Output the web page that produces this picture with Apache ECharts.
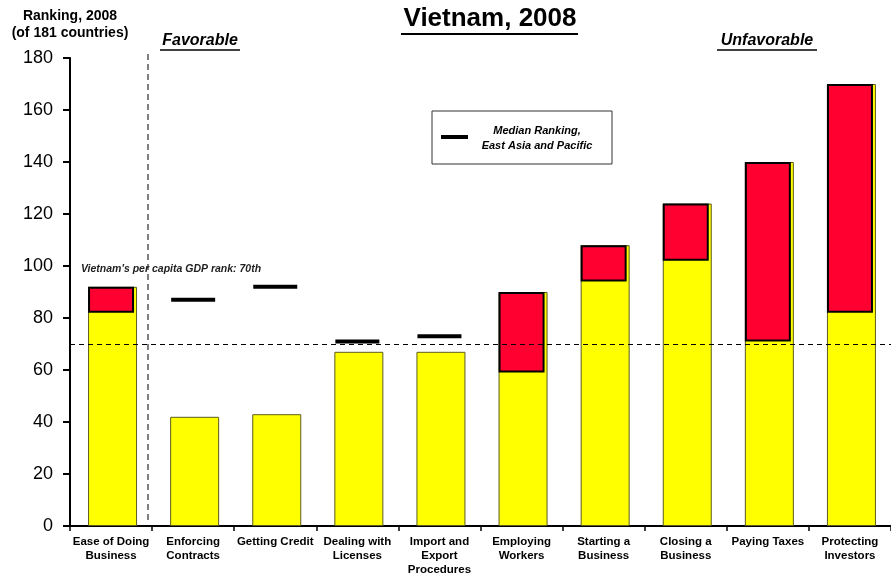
<!DOCTYPE html>
<html>
<head>
<meta charset="utf-8">
<script src="https://cdn.jsdelivr.net/npm/echarts@6/dist/echarts.min.js"></script>
<style>
  html, body { margin: 0; padding: 0; background: #fff; }
  #chart { width: 891px; height: 580px; }
</style>
</head>
<body>
<div id="chart"></div>
<script>
// Doing Business indicators for Vietnam, 2008
const categories = [
  'Ease of Doing\nBusiness',
  'Enforcing\nContracts',
  'Getting Credit',
  'Dealing with\nLicenses',
  'Import and\nExport\nProcedures',
  'Employing\nWorkers',
  'Starting a\nBusiness',
  'Closing a\nBusiness',
  'Paying Taxes',
  'Protecting\nInvestors'
];
// Vietnam's rank (of 181 countries)
const vietnamRank = [92, 42, 43, 67, 67, 90, 108, 124, 140, 170];
// Median rank, East Asia and Pacific
const regionMedian = [82, 87, 92, 71, 73, 59, 94, 102, 71, 82];
const gdpRank = 70;
const yTicks = [0, 20, 40, 60, 80, 100, 120, 140, 160, 180];

const FONT = '"Liberation Sans", Arial, sans-serif';

// Red segment: from the regional median up to Vietnam's rank where Vietnam ranks worse
const gapBase = vietnamRank.map((v, i) => v > regionMedian[i] ? regionMedian[i] : '-');
const gapSize = vietnamRank.map((v, i) => v > regionMedian[i] ? v - regionMedian[i] : '-');
// Median dashes shown where Vietnam ranks better than the regional median
const medianMarks = regionMedian.map((m, i) => vietnamRank[i] < m ? [i, m] : null).filter(Boolean);

const chart = echarts.init(document.getElementById('chart'));
chart.setOption({
  animation: false,
  grid: { left: 70, right: 0, top: 58, bottom: 54, containLabel: false },
  xAxis: {
    type: 'category',
    data: categories,
    axisLine: { lineStyle: { color: '#000', width: 2 } },
    axisTick: { show: true, alignWithLabel: false, length: 5, lineStyle: { color: '#000', width: 1.5 } },
    axisLabel: {
      interval: 0, color: '#000', fontFamily: FONT, fontWeight: 'bold',
      fontSize: 11.5, lineHeight: 14, margin: 9
    }
  },
  yAxis: {
    type: 'value',
    min: yTicks[0], max: yTicks[yTicks.length - 1], interval: 20,
    axisLine: { show: true, lineStyle: { color: '#000', width: 2 } },
    axisTick: { show: true, length: 7, lineStyle: { color: '#000', width: 2 } },
    axisLabel: { color: '#000', fontFamily: FONT, fontSize: 18, margin: 17 },
    splitLine: { show: false }
  },
  series: [
    {
      name: 'Vietnam',
      type: 'bar',
      data: vietnamRank,
      barWidth: 49,
      barGap: '-100%',
      itemStyle: { color: '#FFFF00', borderColor: '#5c5c1f', borderWidth: 1 },
      markLine: {
        silent: true, symbol: 'none', label: { show: false },
        lineStyle: { color: '#000', type: [5, 4], width: 1 },
        data: [{ yAxis: gdpRank }]
      },
      z: 2
    },
    {
      name: 'base',
      type: 'bar',
      stack: 'gap',
      data: gapBase,
      barWidth: 46,
      itemStyle: { color: 'transparent' },
      z: 3
    },
    {
      name: 'gap',
      type: 'bar',
      stack: 'gap',
      data: gapSize,
      barWidth: 46,
      itemStyle: { color: '#FF0030', borderColor: '#000', borderWidth: 2 },
      z: 4
    },
    {
      name: 'Median Ranking, East Asia and Pacific',
      type: 'scatter',
      data: medianMarks,
      symbol: 'rect',
      symbolSize: [44, 4],
      itemStyle: { color: '#000', opacity: 1 },
      z: 5
    }
  ],
  graphic: [
    // axis title
    { type: 'text', style: {
        x: 70, y: 8, text: 'Ranking, 2008\n(of 181 countries)', align: 'center',
        font: 'bold 14px ' + FONT, fill: '#000', lineHeight: 17 } },
    // chart title
    { type: 'text', style: { x: 490, y: 6, text: 'Vietnam, 2008', align: 'center',
        font: 'bold 26px ' + FONT, fill: '#000' } },
    { type: 'line', shape: { x1: 401, y1: 34, x2: 578, y2: 34 }, style: { stroke: '#000', lineWidth: 2 } },
    // group headings
    { type: 'text', style: { x: 200, y: 33, text: 'Favorable', align: 'center',
        font: 'italic bold 16px ' + FONT, fill: '#000' } },
    { type: 'line', shape: { x1: 160, y1: 50, x2: 240, y2: 50 }, style: { stroke: '#000', lineWidth: 1.5 } },
    { type: 'text', style: { x: 767, y: 33, text: 'Unfavorable', align: 'center',
        font: 'italic bold 16px ' + FONT, fill: '#000' } },
    { type: 'line', shape: { x1: 717, y1: 50, x2: 817, y2: 50 }, style: { stroke: '#000', lineWidth: 1.5 } },
    // divider between the overall rank and the individual indicators
    { type: 'line', shape: { x1: 148, y1: 54, x2: 148, y2: 520 },
      style: { stroke: '#555', lineWidth: 1.5, lineDash: [6, 4] } },
    // note on the GDP line
    { type: 'text', style: { x: 81, y: 264, text: "Vietnam's per capita GDP rank: 70th",
        font: 'italic bold 10.5px ' + FONT, fill: '#222' } },
    // legend box
    { type: 'rect', shape: { x: 432, y: 111, width: 180, height: 53 },
      style: { fill: '#fff', stroke: '#333', lineWidth: 1 }, z: 10 },
    { type: 'rect', shape: { x: 441, y: 135, width: 27, height: 4 },
      style: { fill: '#000' }, z: 11 },
    { type: 'text', style: { x: 537, y: 123, text: 'Median Ranking,\nEast Asia and Pacific', align: 'center',
        font: 'italic bold 11px ' + FONT, fill: '#000', lineHeight: 15 }, z: 11 }
  ]
});
</script>
</body>
</html>
